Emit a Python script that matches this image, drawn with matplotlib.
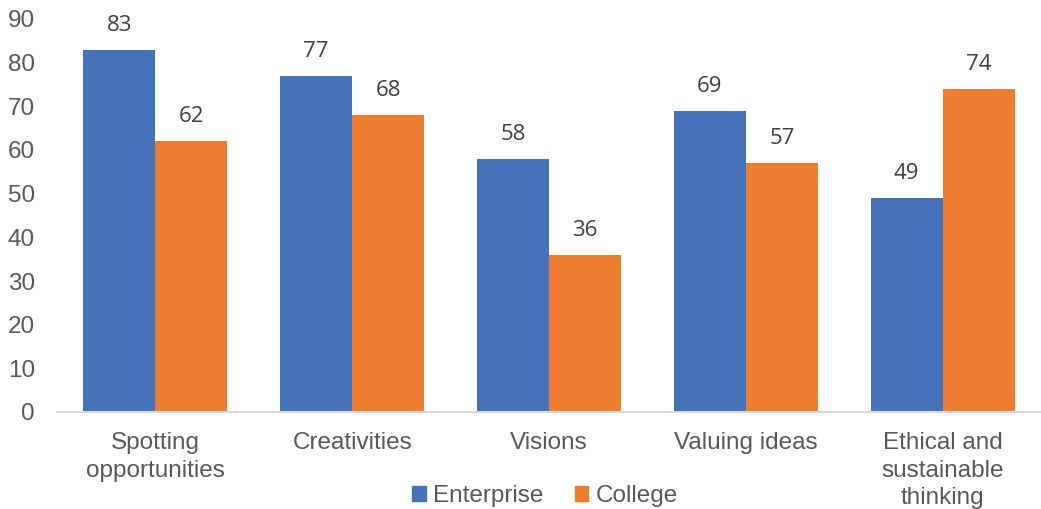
import matplotlib
matplotlib.use("Agg")
import matplotlib.pyplot as plt
import numpy as np
from matplotlib.patches import Patch

categories = ["Spotting\nopportunities", "Creativities", "Visions", "Valuing ideas",
              "Ethical and\nsustainable\nthinking"]
enterprise = [83, 77, 58, 69, 49]
college = [62, 68, 36, 57, 74]
series_names = ["Enterprise", "College"]
yticks = [0, 10, 20, 30, 40, 50, 60, 70, 80, 90]

blue = "#4672BA"
orange = "#ED7D31"

fig = plt.figure(figsize=(10.41, 5.09), dpi=100)
ax = fig.add_axes([57/1041, 1-412/509, 1-57/1041, (412-19)/509])

x = np.arange(len(categories))
w = 0.366
b1 = ax.bar(x - w/2, enterprise, w, color=blue)
b2 = ax.bar(x + w/2, college, w, color=orange)

for bars, vals in ((b1, enterprise), (b2, college)):
    for r, v in zip(bars, vals):
        ax.annotate(str(v), (r.get_x() + r.get_width()/2, r.get_height()),
                    xytext=(0, 10), textcoords="offset points",
                    ha="center", va="bottom", fontsize=16,
                    family=["Open Sans", "DejaVu Sans"], color="#404040")

ax.set_xlim(-0.5, len(categories) - 0.5)
ax.set_ylim(0, 90)
ax.set_yticks(yticks)
ax.set_xticks(x)
ax.set_xticklabels(categories, fontsize=17.5, family="Liberation Sans", color="#595959",
                   linespacing=1.32)
for lab in ax.get_yticklabels():
    lab.set_fontsize(17.5)
    lab.set_family("Liberation Sans")
    lab.set_color("#595959")
ax.tick_params(axis="both", length=0)
ax.tick_params(axis="y", pad=16)
ax.tick_params(axis="x", pad=14.5)
for s in ("top", "right", "left"):
    ax.spines[s].set_visible(False)
ax.spines["bottom"].set_color("#D9D9D9")
ax.spines["bottom"].set_linewidth(1.5)

handles = [Patch(color=blue), Patch(color=orange)]
fig.legend(handles, series_names, loc="center", bbox_to_anchor=(545/1041, 1-496/509),
           ncol=2, frameon=False, handlelength=0.55, handleheight=0.55, handletextpad=0.3,
           columnspacing=1.3, prop={"family": "Liberation Sans", "size": 17.5},
           labelcolor="#595959")

fig.savefig("out.png", dpi=100)
